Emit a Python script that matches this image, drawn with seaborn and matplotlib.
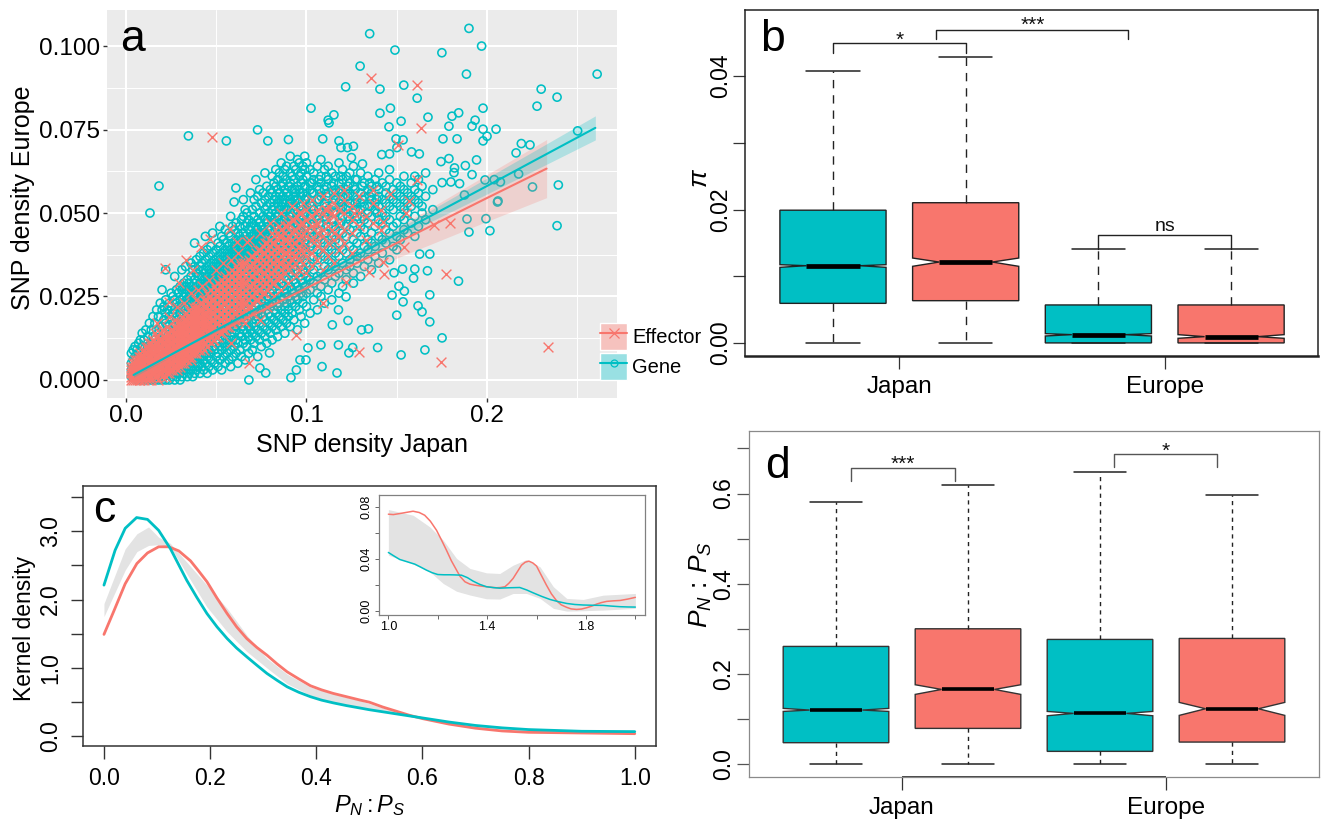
import matplotlib
matplotlib.use("Agg")
import matplotlib.pyplot as plt
import seaborn as sns
import pandas as pd
from matplotlib.lines import Line2D
from matplotlib.patches import Patch
from matplotlib.legend_handler import HandlerTuple

TEAL = "#00BFC4"
SALMON = "#F8766D"

# ---------- panel a : SNP densities, outliers as (Japan, Europe) fractions
gene_outliers = [(.135,.1037),(.190,.1053),(.197,.100),(.149,.0988),(.175,.098),(.1886,.0916),(.1297,.094),(.1217,.0878),
(.1407,.0871),(.1539,.0883),(.1613,.0844),(.261,.0916),(.230,.0871),(.2388,.0847),(.2277,.082),(.1025,.0814),(.1152,.0794),
(.112,.0778),(.1125,.077),(.1407,.0799),(.1465,.0814),(.1524,.0775),(.1457,.0758),(.1673,.0787),(.1806,.079),(.1843,.08),
(.1978,.0814),(.1789,.076),(.1934,.0778),(.1917,.076),(.1978,.0751),(.205,.0751),(.2,.073),(.1978,.0716),(.1834,.0722),
(.1756,.0722),(.2502,.0746),(.0346,.0731),(.0556,.0716),(.0729,.0749),(.0786,.0716),(.09,.072),(.109,.0722),(.118,.0716),
(.1191,.0696),(.1227,.0696),(.126,.07),(.1496,.0722),(.1535,.0719),(.1501,.0696),(.1582,.0683),(.1625,.0677),(.146,.0677),
(.1417,.0675),(.1249,.0666),(.131,.0647),(.1745,.0654),(.1789,.0663),(.188,.0642),(.1942,.0659),(.182,.0635),(.1817,.0621),
(.1917,.0615),(.2161,.068),(.219,.0708),(.2238,.0704),(.2175,.0617),(.2252,.0578),(.2395,.0584),(.1989,.0599),(.204,.06),
(.2074,.0593),(.2061,.0536),(.1875,.0554),(.1751,.0591),(.18,.0593),(.1848,.0588),(.0183,.0581),(.0609,.0575),(.069,.056),
(.0599,.0533),(.0133,.05),(.2388,.0462),(.2058,.0533),(.1889,.0482),(.1994,.0483),(.19,.0443),(.2016,.0447),(.1842,.0296),
(.1751,.0126),(.1656,.009),(.1524,.0075),(.1394,.0097),(.1256,.0097),(.1235,.0081),(.1169,.0021),(.1086,.004),(.0914,.0007),
(.0681,.0),(.1683,.0255),(.1683,.0174),(.1618,.0222),(.164,.0204),(.15,.0194),(.1593,.0305),(.167,.0327),(.16,.0332),
(.1532,.0332),(.1485,.0321),(.1683,.0377),(.1627,.0377),(.1542,.0266),(.1512,.0281),(.1474,.0254),(.1535,.0234),(.1305,.015),
(.1343,.0153),(.1219,.0249),(.1177,.021),(.1143,.0165),(.123,.0178),(.108,.0105),(.1008,.0096),(.0964,.006),(.1177,.0105),
(.0997,.006),(.0944,.003),(.0774,.0021),(.0742,.0036),(.0795,.0081)]
effector_outliers = [(.1357,.0905),(.1613,.0883),(.0474,.0727),(.1634,.0754),(.1507,.0703),(.1613,.0599),(.1463,.0557),
(.1568,.0536),(.1116,.0509),(.2338,.01),(.1745,.0054),(.1291,.0085),(.1773,.0317),(.1539,.0399),(.1422,.0354),(.1428,.0317),
(.1793,.047),(.1706,.0464),(.1549,.05),(.1422,.0474),(.1263,.05),(.1108,.0509),(.1346,.0324),(.1219,.0294),(.1091,.023),
(.0942,.0135),(.0679,.0051),(.0332,.0359),(.0216,.0335),(.0416,.0399),(.0465,.0422),(.0576,.0452),(.0668,.0414),(.0615,.0414),
(.0371,.0329),(.0296,.029),(.0238,.0234),(.017,.0171)]

# dense cloud, read in thousandths: (Japan, [Europe values at that Japan value])
gene_low = [(3,[1,3,5,8]),(4,[1,2,6,9]),(5,[1,4,7,10]),(6,[0,3,6,9]),(7,[1,5,8,11]),(8,[0,3,7,12]),(9,[1,5,10,14]),(10,[0,3,8,12]),
(11,[1,6,15]),(12,[0,4,10,13]),(13,[2,7,17]),(14,[0,5,11,15]),(15,[1,8,13,19]),(16,[0,3,12,17]),(17,[1,6,15,21]),(18,[0,9,14,19]),
(19,[2,12,23]),(20,[0,5,16,21,27]),(21,[1,6,10,14,18,22]),(22,[0,3,8,12,17,20,24,33]),(23,[2,5,9,13,16,21]),
(24,[0,4,7,11,15,19,23]),(25,[1,3,6,10,14,18,22,26]),(26,[2,5,8,12,16,20,25]),(27,[0,3,7,11,13,17,21,24,31]),
(28,[1,4,9,15,19,23,27]),(29,[2,6,10,12,14,18,22,26]),(30,[0,3,5,8,13,16,20,24,28]),(31,[1,4,7,11,15,19,23,27,33]),
(32,[2,6,9,12,17,21,25,29]),(33,[3,5,8,14,18,22,26,28,34]),(34,[1,4,7,10,13,16,20,24,27,30]),(35,[2,6,9,12,15,19,23,25,29]),
(36,[3,5,8,11,17,21,26,28,31,35]),(37,[1,4,7,10,14,18,22,24,27,33]),(38,[2,6,9,13,16,20,25,29,30,34,41]),
(39,[3,5,8,12,15,19,23,26,28,32,36]),(40,[4,7,10,14,17,21,24,27,31,33])]
gene_mid = [(41,[2,5,9,12,16,20,23,26,29,34,37]),(42,[4,7,11,14,18,22,25,28,31,35]),(43,[3,6,10,13,17,21,24,27,30,33,38]),
(44,[5,8,12,15,19,23,26,29,32,36,43]),(45,[2,7,11,14,18,22,25,28,31,34,39]),(46,[4,9,13,16,20,24,27,30,33,37]),
(47,[6,8,12,15,19,23,26,29,32,35,40]),(48,[3,10,14,17,21,25,28,31,34,38,44]),(49,[5,9,13,16,20,24,27,30,33,36]),
(50,[7,11,15,18,22,26,29,32,35,39]),(51,[4,8,12,17,21,25,28,31,34,37,41]),(52,[6,10,14,19,23,27,30,33,36,40,46]),
(53,[3,9,13,16,20,24,29,32,35,38,43]),(54,[7,11,15,18,22,26,28,31,34,37,42]),(55,[5,10,14,17,21,25,30,33,36,39,45]),
(56,[8,12,16,19,23,27,29,32,35,38,41]),(57,[6,11,15,20,24,28,31,34,37,40,44]),(58,[4,9,13,18,22,26,30,33,36,39,43,49]),
(59,[7,12,17,21,25,29,32,35,38,41,46]),(60,[10,14,16,20,24,28,31,34,37,40,45]),(61,[8,12,15,19,23,27,30,33,36,39,42,47]),
(62,[5,11,17,21,25,29,32,35,38,41,44]),(63,[9,14,18,22,26,31,34,37,40,43,46]),(64,[7,13,16,20,24,28,33,36,39,42,48]),
(65,[11,15,19,23,27,30,35,38,41,44,49,54]),(66,[6,12,17,21,25,29,32,37,40,43,46,51]),(67,[10,14,18,22,26,31,34,36,39,42,47,50]),
(68,[8,13,16,20,24,28,33,38,41,45,48]),(69,[12,15,19,23,27,30,35,37,40,43,46]),(70,[9,14,17,21,25,29,32,36,39,42,47,51]),
(71,[11,16,20,24,28,31,34,38,41,44,49,54]),(72,[13,18,22,26,30,33,37,40,43,46,52,60]),(73,[7,15,19,23,27,32,35,39,42,45,48,55]),
(74,[12,17,21,25,29,34,36,41,44,47,50,57]),(75,[10,14,20,24,28,31,38,40,43,46,53]),(76,[16,19,22,26,30,33,35,39,42,45,49,56]),
(77,[13,18,23,27,32,37,41,44,48,51,54,62]),(78,[11,15,21,25,29,34,36,40,43,47,52,58]),(79,[17,20,24,28,31,35,38,42,46,50,55]),
(80,[14,19,22,26,30,33,37,41,45,49,53,57]),(81,[12,16,23,27,32,36,39,43,47,51,56,61]),(82,[18,21,25,29,34,38,40,44,48,52,54,59]),
(83,[15,20,24,28,31,35,41,46,50,55,58,63]),(84,[13,17,22,26,33,37,42,45,49,53,57,60]),(85,[19,23,27,30,36,39,43,47,51,54,56,62]),
(86,[16,21,25,29,32,38,41,44,48,52,58,65]),(87,[18,24,28,34,37,40,46,50,53,55,59,61]),(88,[14,20,22,26,31,35,42,45,49,54,57,63]),
(89,[17,23,27,33,36,39,43,47,51,56,60,64]),(90,[19,21,25,30,34,38,41,44,48,52,55,58])]
gene_high = [(91,[16,24,28,32,37,42,46,50,54,59,62,67]),(92,[20,23,27,31,35,40,45,49,53,57,61]),(93,[18,26,30,34,39,43,47,51,55,60,64]),
(94,[22,25,29,33,38,41,44,48,52,56,63]),(95,[15,24,28,32,36,42,46,50,54,58,66]),(96,[21,27,31,35,40,45,49,53,57,61,65]),
(97,[19,26,30,34,37,43,47,52,55,59,62]),(98,[23,25,29,33,39,44,48,51,56,60,64]),(99,[17,28,32,36,41,46,50,54,58,63,67]),
(100,[22,26,31,35,38,42,47,52,55,61,65]),(102,[20,27,30,34,40,44,49,53,57,59,63]),(104,[24,29,33,37,43,46,51,56,60,62]),
(106,[21,26,31,36,39,45,48,54,58,64]),(108,[25,28,32,38,42,47,50,55,59,61,66]),(110,[23,30,34,37,41,44,49,53,57,63]),
(112,[27,33,36,40,46,51,56,60,64]),(114,[24,29,35,39,43,48,52,58,62]),(116,[31,34,38,42,45,50,54,57,61]),(118,[26,32,37,41,47,53,56,59,65]),
(120,[28,35,39,44,49,52,55,60,63]),(122,[30,33,38,43,46,51,57,61]),(124,[34,36,40,45,48,53,56,59,62]),(126,[29,32,39,42,47,50,55,58,64]),
(128,[35,37,41,44,49,54,60]),(130,[31,38,43,46,51,53,56,62]),(132,[34,40,45,48,52,55,59]),(134,[36,39,42,47,50,57,61]),
(136,[33,41,44,49,54,56,58]),(138,[37,40,46,51,53,60]),(140,[35,43,48,52,55,57,62]),(142,[38,42,47,50,54,59]),(144,[41,45,49,53,56,58]),
(146,[36,44,48,52,55,60,63]),(148,[40,46,51,54,57]),(150,[39,43,47,53,56,59]),(152,[42,49,52,55,58]),(154,[45,48,51,54,57,61]),
(156,[44,50,53,56]),(158,[47,52,55,59]),(160,[43,49,54,57,61]),(162,[46,53,56,60]),(164,[50,52,58]),(166,[48,55,62]),(170,[51,57])]
# denser ridge of the gene cloud, between the columns above
gene_ridge = [(30.5,[7,10,12,15,18,22]),(33.5,[9,11,13,16,20,24]),(36.5,[10,13,15,18,20,23]),(39.5,[11,14,17,20,22,25]),
(42.5,[12,15,19,21,24,27]),(45.5,[13,16,20,23,26,29]),(48.5,[15,18,22,24,27,30]),(51.5,[16,19,23,26,29,32]),(54.5,[18,20,24,27,30,33]),
(57.5,[19,22,25,28,32,35]),(60.5,[21,24,27,30,33,36,39]),(63.5,[22,25,29,32,35,38]),(66.5,[23,27,30,34,36,39,42]),(69.5,[24,28,31,34,38,41]),
(72.5,[26,29,32,35,39,42,45]),(75.5,[27,30,34,37,41,44]),(78.5,[28,32,36,39,42,45,48]),(81.5,[30,34,37,41,44,47]),(84.5,[31,35,39,43,46,49,52]),
(87.5,[33,36,40,44,48,51]),(90.5,[34,38,42,46,49,53]),(93.5,[36,40,44,47,51,54,57]),(96.5,[37,41,45,49,52,56]),(99.5,[39,43,47,50,54,58]),
(103,[41,45,49,52,56,59]),(107,[43,47,51,54,57,60]),(111,[44,48,52,55,58,61]),(115,[46,50,53,56,59]),(119,[47,51,54,57,61]),(123,[49,52,55,58]),
(127,[51,53,57,60]),(131,[49,54,58]),(135,[52,55,59]),(139,[50,54,58])]
effector_low = [(3,[0,1,2,3,4]),(4,[0,1,2,3,4,5]),(5,[0,1,2,3,4,5,6]),(6,[0,1,2,3,4,5,6]),(7,[0,1,2,3,4,5,6,7]),(8,[0,1,2,3,4,5,6,7,8]),
(10,[0,1,2,3,4,5,6,7,8,9]),(12,[0,1,2,3,4,5,6,7,8,9,10]),(14,[0,1,2,3,4,5,6,7,8,9,10,11]),(16,[1,2,3,4,5,6,7,8,9,10,11,14]),
(18,[0,2,3,4,5,6,7,8,9,10,11,12]),(20,[1,2,3,4,5,6,7,8,9,10,11,12,15]),(22,[1,3,4,5,6,7,8,9,10,11,12,13]),
(24,[2,3,4,5,6,7,8,9,10,11,12,13,14,19]),(26,[3,4,5,6,7,8,9,10,11,12,13,14,15]),(28,[3,4,5,6,7,8,9,10,11,12,13,14,15,16,22]),
(30,[4,5,6,7,8,9,10,11,12,13,14,15,16,17]),(32,[5,6,7,8,9,10,11,12,13,14,15,16,17,18,23]),(34,[6,7,8,9,10,11,12,13,14,15,16,17,18,19]),
(36,[6,7,8,9,10,11,12,13,14,15,16,17,18,19,20,26]),(38,[8,9,10,11,12,13,14,15,16,17,18,19,20,21]),(40,[9,10,11,12,13,14,15,16,17,18,19,20,21,22,27])]
effector_high = [(42,[10,12,14,16,17,19,21,23,28]),(44,[11,13,15,17,19,20,22,24]),(46,[12,14,15,17,19,21,23,25,30]),(48,[12,14,16,18,20,22,24,26]),
(50,[13,15,17,19,21,23,25,27,33]),(52,[14,16,18,20,22,24,26,28]),(54,[15,17,19,21,23,25,27,29,35]),(56,[16,18,20,22,24,26,28,30]),
(58,[11,17,19,21,23,25,27,29,31,36]),(60,[18,20,22,24,26,28,30,32]),(62,[19,21,23,25,27,29,31,33,38]),(64,[20,22,24,26,28,30,32,34]),
(66,[17,21,23,25,27,29,31,33,35]),(68,[22,24,26,28,30,32,34,36,42]),(70,[20,23,25,27,29,31,33,35,37]),(72,[24,26,28,30,32,34,36,38]),
(74,[18,25,27,29,31,33,35,37,39,44]),(76,[26,28,30,32,34,36,38,40]),(78,[22,27,29,31,33,35,37,39,41]),(80,[28,30,32,34,36,38,40,42,47]),
(82,[25,29,31,33,35,37,39,41,43]),(84,[30,32,34,36,38,40,42,44]),(86,[27,31,33,35,37,39,41,43,45,50]),(88,[32,34,36,38,40,42,44,46]),
(90,[29,33,35,37,39,41,43,47]),(92,[34,36,38,40,42,44,48,52]),(94,[31,35,37,39,43,45,49]),(96,[33,36,40,42,46,50]),(98,[35,38,41,44,47,53]),
(100,[32,37,39,43,45,48,51]),(103,[34,38,42,46,49,54]),(106,[36,40,44,47,51]),(109,[33,39,43,45,50,55]),(112,[37,41,46,48,52]),
(115,[35,42,44,49,53,56]),(118,[39,43,47,51]),(121,[41,45,50,54,57]),(125,[38,44,48,52]),(129,[46,50,55]),(133,[42,49]),(137,[47,53,57]),(141,[45,51])]
effector_ridge = [(9,[1,3,5,7]),(11,[2,4,6,8,10]),(13,[1,3,5,7,9,11]),(15,[2,4,6,8,10,12]),(17,[1,3,5,7,9,11,13]),(19,[2,4,6,8,10,12,14]),
(21,[3,5,7,9,11,13]),(23,[2,4,6,8,10,12,14,16]),(25,[3,5,7,9,11,13,15]),(27,[4,6,8,10,12,14,16,18]),(29,[5,7,9,11,13,15,17]),
(31,[5,7,9,11,13,15,17,19]),(33,[6,8,10,12,14,16,18,20]),(35,[7,9,11,13,15,17,19,21]),(37,[8,10,12,14,16,18,20,22]),(39,[8,10,12,14,16,18,20,22,24]),
(41,[9,11,13,15,17,19,21,23]),(43,[9,11,13,15,16,18,20,22,24]),(45,[10,12,14,16,18,20,22,24,26]),(47,[11,13,15,16,18,20,22,24,27]),
(49,[12,14,16,18,20,22,24,26,28]),(51,[13,15,17,19,21,23,25,27,29]),(53,[14,16,18,20,22,24,26,28,30]),(55,[15,17,19,21,23,25,27,29,31]),
(57,[16,18,20,22,24,26,28,30,32]),(59,[17,19,21,23,25,27,29,31,33]),(61,[18,20,22,24,26,28,30,32,34]),(63,[19,21,23,25,27,29,31,33,35]),
(65,[20,23,26,29,32,35]),(69,[22,25,28,31,34,37]),(73,[24,27,30,33,36,39]),(77,[26,29,32,35,38,41]),(81,[29,32,35,38,41,44]),(85,[31,35,39,43,46]),
(89,[34,38,42,46]),(93,[37,41,45,48]),(97,[39,43,47,50]),(105,[42,46,50]),(114,[45,50])]

# fitted lines and their confidence ribbons
gene_fit_x = [.0042,.05,.10,.15,.20,.26]
gene_fit_y = [.0015,.0149,.0293,.0437,.0581,.0755]
gene_fit_half = [.0007,.0005,.0006,.0013,.0024,.0036]
effector_fit_x = [.0042,.05,.10,.15,.20,.233]
effector_fit_y = [.0015,.0139,.0275,.0410,.0545,.0633]
effector_fit_half = [.0015,.0010,.0020,.0045,.0070,.0087]

# ---------- panel c : kernel densities
c_x_gene = [0,.021,.04,.0615,.082,.103,.125,.156,.175,.194,.213,.232,.25,.269,.288,.307,.326,.345,.367,.389,.41,.432,.457,.483,.5,.525,.55,.575,.6,.65,.7,.75,.8,.9,1]
c_gene = [2.21,2.72,3.04,3.197,3.17,3.01,2.745,2.28,2.03,1.795,1.60,1.43,1.29,1.163,1.04,.92,.82,.725,.645,.58,.53,.49,.45,.414,.39,.36,.33,.30,.27,.21,.16,.125,.10,.075,.07]
c_x_eff = [0,.018,.04,.062,.082,.103,.122,.141,.163,.178,.194,.213,.232,.25,.269,.288,.307,.326,.345,.367,.389,.41,.432,.457,.483,.5,.525,.55,.575,.6,.65,.7,.75,.8,.9,1]
c_eff = [1.49,1.82,2.23,2.525,2.68,2.77,2.77,2.71,2.565,2.42,2.26,2.02,1.795,1.60,1.43,1.30,1.187,1.06,.944,.84,.74,.68,.628,.58,.53,.50,.43,.37,.31,.26,.18,.12,.08,.06,.05,.04]
c_band_x = [0,.04,.062,.084,.103,.125,.194,.232,.269,.307,.345,.389,.432,.483,.55,.6,.7,.8,1]
c_band_lo = [1.75,2.43,2.70,2.79,2.80,2.77,1.89,1.53,1.24,1.0,.77,.6,.5,.43,.34,.27,.14,.08,.05]
c_band_hi = [1.94,2.74,2.96,3.06,2.91,2.82,2.21,1.87,1.48,1.14,.91,.72,.62,.52,.36,.27,.15,.10,.07]

inset_x_eff = [1,1.02,1.046,1.07,1.1,1.125,1.147,1.17,1.195,1.215,1.235,1.255,1.276,1.29,1.31,1.33,1.35,1.375,1.397,1.415,1.438,1.455,1.472,1.488,1.505,1.522,1.539,1.554,1.569,1.585,1.6,1.62,1.64,1.66,1.681,1.70,1.722,1.74,1.762,1.782,1.803,1.823,1.843,1.863,1.884,1.91,1.938,1.97,2]
inset_eff = [.0744,.0741,.0749,.0757,.0767,.0757,.0736,.0690,.062,.0545,.0467,.0385,.0313,.0265,.0223,.0205,.0197,.019,.0185,.0181,.0177,.0179,.0185,.0212,.0249,.030,.0351,.0374,.0382,.0368,.0344,.0270,.0197,.0130,.0077,.0045,.0026,.0014,.001,.0013,.0023,.0035,.0051,.0063,.0072,.0076,.0079,.0090,.0103]
inset_x_gene = [1,1.02,1.046,1.075,1.107,1.13,1.154,1.177,1.2,1.225,1.249,1.27,1.296,1.32,1.343,1.37,1.397,1.425,1.451,1.49,1.532,1.56,1.586,1.62,1.654,1.69,1.722,1.755,1.789,1.83,1.87,1.9,1.938,1.97,2]
inset_gene = [.0449,.0425,.0395,.0378,.0359,.0337,.0313,.0293,.0279,.0277,.0277,.0276,.0274,.0255,.0228,.0203,.0185,.0178,.0174,.0177,.0179,.0160,.0138,.0111,.0087,.0069,.0056,.0048,.0044,.0042,.0041,.0036,.0031,.0029,.0028]
inset_band_x = [1,1.1,1.168,1.222,1.276,1.33,1.397,1.451,1.505,1.559,1.614,1.668,1.722,1.789,1.87,2]
inset_hi = [.078,.0736,.0646,.0544,.0403,.0326,.0292,.0287,.0351,.0395,.0338,.0185,.0095,.0087,.012,.0133]
inset_lo = [.0428,.0359,.03,.021,.0150,.0121,.0092,.009,.0133,.0133,.0095,.0018,-.0003,.0,.0005,.0018]

# ---------- panels b and d : box statistics (Japan gene, Japan effector, Europe gene, Europe effector)
group_names = ["Japan", "Europe"]
b_whislo = [0, 0, 0, 0]
b_q1 = [.00594, .00634, .00001, .00001]
b_cilo = [.01134, .01149, .00105, .0007]
b_med = [.01158, .01213, .00125, .00095]
b_cihi = [.01173, .01273, .00140, .00125]
b_q3 = [.0199, .02102, .0057, .0057]
b_whishi = [.0408, .0428, .01404, .01404]
d_whislo = [0, 0, 0, 0]
d_q1 = [.048, .0797, .0288, .0494]
d_cilo = [.1173, .155, .1077, .1085]
d_med = [.1203, .166, .1129, .1232]
d_cihi = [.124, .1764, .1173, .1373]
d_q3 = [.2613, .3004, .2768, .279]
d_whishi = [.5815, .619, .648, .597]

W, H = 1324, 821
sns.set_theme(style="white", rc={"text.color": "black", "axes.labelcolor": "black", "xtick.color": "black", "ytick.color": "black"})
plt.rcParams["font.family"] = ["Liberation Sans", "DejaVu Sans"]
plt.rcParams["mathtext.fontset"] = "custom"
plt.rcParams["mathtext.it"] = "Liberation Sans:italic"
plt.rcParams["mathtext.rm"] = "Liberation Sans"
fig = plt.figure(figsize=(W / 100, H / 100), dpi=100)


def box_axes(l, t, r, b):
    return fig.add_axes([l / W, 1 - b / H, (r - l) / W, (b - t) / H])


def expand(cols):
    return [(x / 1000, y / 1000) for x, ys in cols for y in ys]


def panel_label(s, x, y, size=32):
    fig.text(x / W, 1 - y / H, s, fontsize=size, ha="left", va="baseline", color="black")


# ---- a
ax = box_axes(107, 10, 617, 398)
ax.set_facecolor("#EBEBEB")
gene = pd.DataFrame(gene_outliers + expand(gene_low) + expand(gene_mid) + expand(gene_high) + expand(gene_ridge), columns=["jp", "eu"])
eff = pd.DataFrame(effector_outliers + expand(effector_low) + expand(effector_ridge) + expand(effector_high), columns=["jp", "eu"])
sns.scatterplot(data=gene, x="jp", y="eu", ax=ax, marker="o", s=34, facecolor="none", edgecolor=TEAL, linewidth=1.15, zorder=3)
sns.scatterplot(data=eff, x="jp", y="eu", ax=ax, marker="x", s=50, color=SALMON, linewidth=1.0, zorder=4)
ax.fill_between(effector_fit_x, [a - h for a, h in zip(effector_fit_y, effector_fit_half)],
                [a + h for a, h in zip(effector_fit_y, effector_fit_half)], color=SALMON, alpha=.22, lw=0, zorder=5)
ax.fill_between(gene_fit_x, [a - h for a, h in zip(gene_fit_y, gene_fit_half)],
                [a + h for a, h in zip(gene_fit_y, gene_fit_half)], color=TEAL, alpha=.25, lw=0, zorder=5)
sns.lineplot(x=effector_fit_x, y=effector_fit_y, ax=ax, color=SALMON, lw=1.5, zorder=6, errorbar=None)
sns.lineplot(x=gene_fit_x, y=gene_fit_y, ax=ax, color=TEAL, lw=1.5, zorder=6, errorbar=None)
ax.set_xlim(-.0105, .272)
ax.set_ylim(-.0054, .1108)
ax.set_xticks([0, .1, .2])
ax.set_xticklabels(["0.0", "0.1", "0.2"])
ax.set_yticks([0, .025, .05, .075, .1])
ax.set_yticklabels(["0.000", "0.025", "0.050", "0.075", "0.100"])
ax.set_xticks([.05, .15, .25], minor=True)
ax.set_yticks([.0125, .0375, .0625, .0875], minor=True)
ax.grid(True, which="major", color="white", lw=1.5, zorder=0)
ax.grid(True, which="minor", color="white", lw=.7, zorder=0)
ax.set_axisbelow(True)
for s in ax.spines.values():
    s.set_visible(False)
ax.tick_params(which="major", length=3, width=1, color="#333333", labelsize=17.5, pad=2, left=True, bottom=True)
ax.tick_params(which="minor", length=0)
ax.set_xlabel("SNP density Japan", fontsize=18, labelpad=4)
ax.set_ylabel("SNP density Europe", fontsize=18, labelpad=3, y=.515)
key_e = (Patch(fc=(0.965, 0.76, 0.745), ec="white", lw=1), Line2D([], [], color=SALMON, lw=1.5),
         Line2D([], [], color=SALMON, marker="x", ls="", ms=7, mew=.9))
key_g = (Patch(fc=(0.60, 0.88, 0.89), ec="white", lw=1), Line2D([], [], color=TEAL, lw=1.5),
         Line2D([], [], color=TEAL, marker="o", ls="", ms=5, mfc="none", mew=.9))
ax.legend([key_e, key_g], ["Effector", "Gene"], handler_map={tuple: HandlerTuple(ndivide=1, pad=0)},
          loc="upper left", bbox_to_anchor=(596 / W, 1 - 319 / H), bbox_transform=fig.transFigure, frameon=False,
          fontsize=14.5, handlelength=1.34, handleheight=1.68, labelspacing=.15, handletextpad=.25, borderpad=.2, borderaxespad=0)
panel_label("a", 120, 51)

# ---- c
ax = box_axes(83, 486, 656, 746)
ax.fill_between(c_band_x, c_band_lo, c_band_hi, color="#E3E3E3", lw=0)
sns.lineplot(x=c_x_eff, y=c_eff, ax=ax, color=SALMON, lw=2, errorbar=None)
sns.lineplot(x=c_x_gene, y=c_gene, ax=ax, color=TEAL, lw=2, errorbar=None)
ax.set_xlim(-.0395, 1.04)
ax.set_ylim(-.14, 3.658)
ax.set_xticks([0, .2, .4, .6, .8, 1])
ax.set_xticklabels(["0.0", "0.2", "0.4", "0.6", "0.8", "1.0"])
ax.set_yticks([0, .5, 1, 1.5, 2, 2.5, 3, 3.5])
ax.set_yticklabels(["0.0", "", "1.0", "", "2.0", "", "3.0", ""], rotation=90, va="center")
ax.tick_params(length=9, width=1, color="#333333", labelsize=16.5, pad=6, left=True, bottom=True)
for s in ax.spines.values():
    s.set_color("#333333")
    s.set_linewidth(1.1)
ax.set_xlabel(r"$P_N : P_S$", fontsize=17, labelpad=2)
ax.set_ylabel("Kernel density", fontsize=16.5, labelpad=2, y=.454)
panel_label("c", 93, 522)

ins = box_axes(379, 495, 645, 615)
ins.fill_between(inset_band_x, inset_lo, inset_hi, color="#E3E3E3", lw=0)
sns.lineplot(x=inset_x_eff, y=inset_eff, ax=ins, color=SALMON, lw=1.1, errorbar=None)
sns.lineplot(x=inset_x_gene, y=inset_gene, ax=ins, color=TEAL, lw=1.1, errorbar=None)
ins.set_xlim(.962, 2.039)
ins.set_ylim(-.0033, .0892)
ins.set_xticks([1, 1.2, 1.4, 1.6, 1.8, 2])
ins.set_xticklabels(["1.0", "", "1.4", "", "1.8", ""])
ins.set_yticks([0, .02, .04, .06, .08])
ins.set_yticklabels(["0.00", "", "0.04", "", "0.08"], rotation=90, va="center")
ins.tick_params(length=3, width=.7, color="#666666", labelsize=9, pad=1.5, left=True, bottom=True)
for s in ins.spines.values():
    s.set_color("#808080")
    s.set_linewidth(.9)


# ---- boxes
def boxes(ax, whislo, q1, cilo, med, cihi, q3, whishi, dash, median_lw, edge):
    stats = [dict(whislo=a, q1=b, cilo=c, med=m, cihi=e, q3=f, whishi=g)
             for a, b, c, m, e, f, g in zip(whislo, q1, cilo, med, cihi, q3, whishi)]
    art = ax.bxp(stats, positions=[0, 1, 2, 3], widths=.8, shownotches=True, patch_artist=True, showfliers=False,
                 capwidths=.4, manage_ticks=False,
                 boxprops=dict(edgecolor=edge, linewidth=1.0),
                 whiskerprops=dict(color="#222222", linewidth=1.0, linestyle=dash),
                 capprops=dict(color="#222222", linewidth=1.1),
                 medianprops=dict(color="black", linewidth=median_lw, solid_capstyle="butt"))
    for patch, colour in zip(art["boxes"], [TEAL, SALMON, TEAL, SALMON]):
        patch.set_facecolor(colour)


def bracket(ax, x0, x1, y_top, y0, y1, label, text_y, colour="#222222", size=15):
    ax.plot([x0, x0, x1, x1], [y0, y_top, y_top, y1], color=colour, lw=1.0, clip_on=False)
    ax.text((x0 + x1) / 2, text_y, label, ha="center", va="center", fontsize=size, color="#111111")


ax = box_axes(745, 10, 1318, 356)
boxes(ax, b_whislo, b_q1, b_cilo, b_med, b_cihi, b_q3, b_whishi, (0, (6, 5)), 3.4, "#222222")
ax.set_xlim(-.663, 3.655)
ax.set_ylim(-.00195, .0499)
ax.set_xticks([.5, 2.5])
ax.set_xticklabels(group_names)
ax.set_yticks([0, .01, .02, .03, .04])
ax.set_yticklabels(["0.00", "", "0.02", "", "0.04"], rotation=90, va="center")
ax.tick_params(axis="y", length=9, width=.9, color="#333333", labelsize=16.5, pad=0, left=True)
ax.tick_params(axis="x", length=9, width=.9, color="#333333", labelsize=17.5, pad=5.5, bottom=True)
for s in ax.spines.values():
    s.set_color("#222222")
    s.set_linewidth(1.1)
ax.spines["bottom"].set_linewidth(1.8)
ax.set_ylabel(r"$\pi$", fontsize=19, labelpad=-2, y=.515)
bracket(ax, 0, 1, .0449, .0435, .0435, "*", .0453)
bracket(ax, .78, 2.225, .0469, .0455, .0455, "***", .0476)
bracket(ax, 2, 3, .01618, .01404, .01404, "ns", .01745, size=14)
panel_label("b", 760, 51)

ax = box_axes(749, 431, 1319, 777)
boxes(ax, d_whislo, d_q1, d_cilo, d_med, d_cihi, d_q3, d_whishi, (0, (3, 3)), 2.6, "#333333")
ax.set_xlim(-.659, 3.659)
ax.set_ylim(-.028, .7386)
ax.set_xticks([.5, 2.5])
ax.set_xticklabels(group_names)
ax.set_yticks([0, .1, .2, .3, .4, .5, .6, .7])
ax.set_yticklabels(["0.0", "", "0.2", "", "0.4", "", "0.6", ""], rotation=90, va="center")
ax.tick_params(axis="y", length=9, width=.9, color="#555555", labelsize=16.5, pad=1, left=True)
ax.tick_params(axis="x", length=9, width=.9, color="#333333", labelsize=17.5, pad=5.5, bottom=True)
for s in ax.spines.values():
    s.set_color("#8a8a8a")
    s.set_linewidth(.9)
ax.plot([.5, 2.5], [-.028, -.028], color="#333333", lw=1.3, clip_on=False, solid_capstyle="butt")
ax.set_ylabel(r"$P_N\,:\,P_S$", fontsize=19, labelpad=-1, y=.555)
bracket(ax, .116, .902, .6568, .628, .628, "***", .665, colour="#555555")
bracket(ax, 2.106, 2.886, .687, .659, .659, "*", .693, colour="#555555")
panel_label("d", 765, 478)

fig.savefig("out.png", dpi=100)
